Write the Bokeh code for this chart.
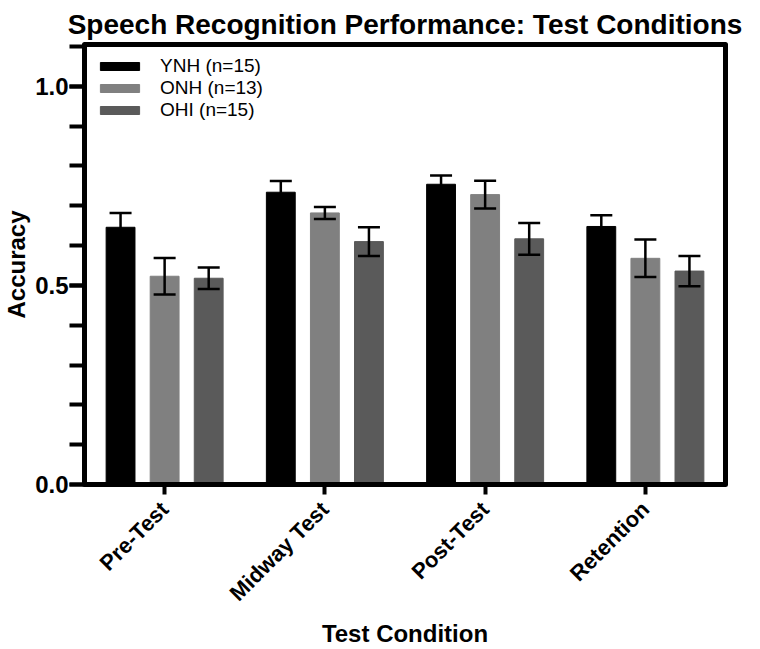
from bokeh.plotting import figure
from bokeh.models import (FactorRange, Range1d, ColumnDataSource, Whisker, TeeHead,
                          FixedTicker, PrintfTickFormatter, Legend, LegendItem)
from bokeh.transform import dodge
from bokeh.embed import file_html
from bokeh.resources import INLINE
import math

# ---- data ----
cats = ["Pre-Test", "Midway Test", "Post-Test", "Retention"]
groups = ["YNH (n=15)", "ONH (n=13)", "OHI (n=15)"]
ynh = [0.646, 0.734, 0.754, 0.648]
ynh_err = [0.036, 0.028, 0.022, 0.028]
onh = [0.523, 0.682, 0.728, 0.568]
onh_err = [0.046, 0.015, 0.035, 0.047]
ohi = [0.518, 0.610, 0.617, 0.536]
ohi_err = [0.027, 0.036, 0.040, 0.038]
colors = ["#000000", "#808080", "#5a5a5a"]
y_major = [0.0, 0.5, 1.0]
y_minor = [0.0, 0.1, 0.2, 0.3, 0.4, 0.5, 0.6, 0.7, 0.8, 0.9, 1.0, 1.1]

FONT = "Liberation Sans"

p = figure(x_range=FactorRange(*cats, range_padding=0), y_range=Range1d(0, 1.105),
           frame_width=641, frame_height=440, output_backend="svg", toolbar_location=None,
           min_border_left=79, min_border_right=24, min_border_top=44, min_border_bottom=163,
           title="Speech Recognition Performance: Test Conditions")
p.x_range.range_padding = 0

p.title.text_font = FONT
p.title.text_font_size = "28px"
p.title.text_font_style = "bold"
p.title.text_color = "black"
p.title.align = "center"
p.title.standoff = 9
p.title.offset = 0

series = [(ynh, ynh_err), (onh, onh_err), (ohi, ohi_err)]
offsets = [-0.275, 0.0, 0.275]
items = []
for (vals, errs), off, col, name in zip(series, offsets, colors, groups):
    src = ColumnDataSource(dict(cats=cats, top=vals,
                                upper=[v + e for v, e in zip(vals, errs)],
                                lower=[v - e for v, e in zip(vals, errs)]))
    r = p.vbar(x=dodge("cats", off, range=p.x_range), top="top", width=0.18, source=src,
               fill_color=col, line_color=col)
    items.append(LegendItem(label=name, renderers=[r]))
    w = Whisker(base=dodge("cats", off, range=p.x_range), upper="upper", lower="lower",
                source=src, line_color="black", line_width=2.5, level="annotation",
                upper_head=TeeHead(size=22, line_width=2.5, line_color="black"),
                lower_head=TeeHead(size=22, line_width=2.5, line_color="black"))
    p.add_layout(w)

legend = Legend(items=items, location="top_left", border_line_color=None,
                background_fill_alpha=0, margin=11, padding=9, spacing=0,
                label_height=20, glyph_height=10, glyph_width=49, label_standoff=16,
                label_text_font=FONT, label_text_font_size="19px", label_text_color="black")
p.add_layout(legend)

p.xgrid.visible = False
p.ygrid.visible = False
p.outline_line_color = "black"
p.outline_line_width = 5
p.outline_line_join = "round"

# y axis
ya = p.yaxis[0]
ya.ticker = FixedTicker(ticks=y_major, minor_ticks=y_minor)
ya.formatter = PrintfTickFormatter(format="%.1f")
ya.axis_label = "Accuracy"
ya.axis_label_text_font = FONT
ya.axis_label_text_font_size = "24px"
ya.axis_label_text_font_style = "bold"
ya.axis_label_text_color = "black"
ya.axis_label_standoff = 2
ya.major_label_text_font = FONT
ya.major_label_text_font_size = "24px"
ya.major_label_text_font_style = "bold"
ya.major_label_text_color = "black"
ya.major_label_standoff = 1
ya.axis_line_width = 5
ya.axis_line_color = "black"
ya.major_tick_line_width = 4
ya.minor_tick_line_width = 4
ya.major_tick_line_color = "black"
ya.minor_tick_line_color = "black"
ya.major_tick_out = 15
ya.minor_tick_out = 15
ya.major_tick_in = 0
ya.minor_tick_in = 0

# x axis
xa = p.xaxis[0]
xa.axis_label = "Test Condition"
xa.axis_label_text_font = FONT
xa.axis_label_text_font_size = "24px"
xa.axis_label_text_font_style = "bold"
xa.axis_label_text_color = "black"
xa.axis_label_standoff = 2
xa.major_label_text_font = FONT
xa.major_label_text_font_size = "22px"
xa.major_label_text_font_style = "bold"
xa.major_label_text_color = "black"
xa.major_label_orientation = math.pi / 4
xa.major_label_standoff = 11
xa.axis_line_width = 5
xa.axis_line_color = "black"
xa.major_tick_line_width = 4
xa.major_tick_line_color = "black"
xa.major_tick_out = 10
xa.major_tick_in = 0

open("out.html", "w").write(file_html(p, INLINE))
